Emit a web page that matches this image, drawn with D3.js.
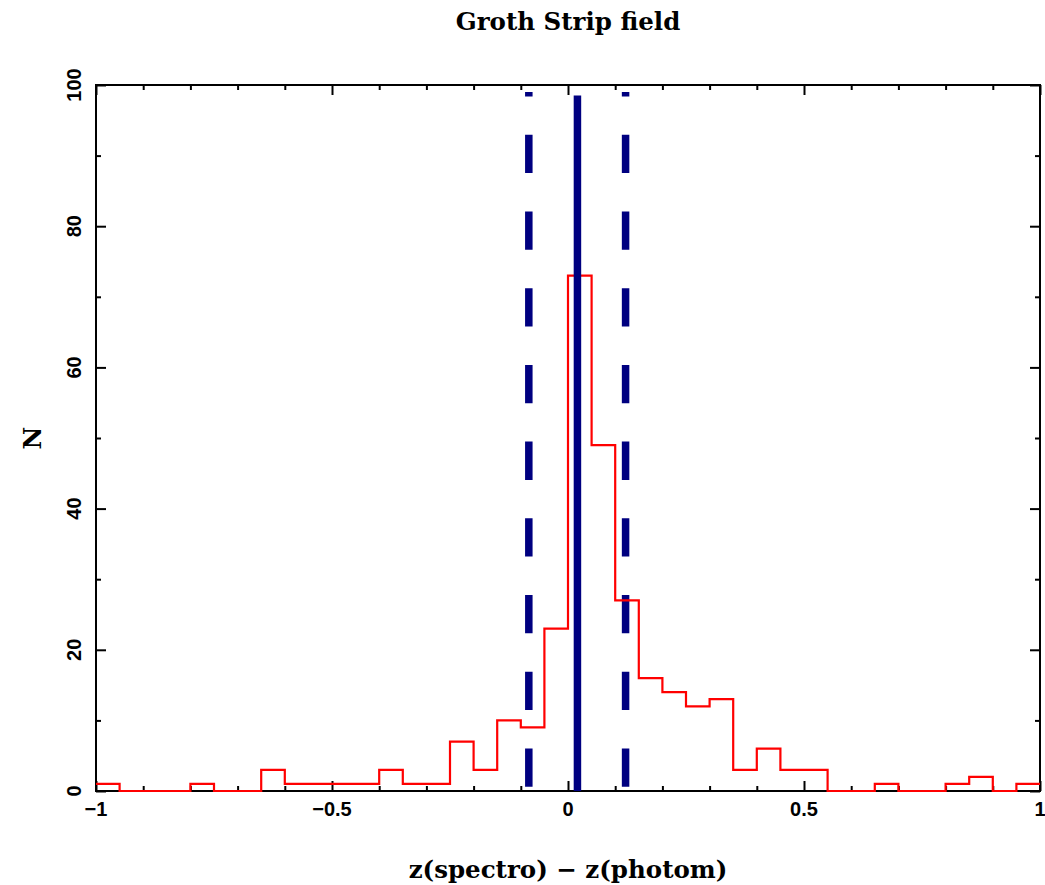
<!DOCTYPE html>
<html>
<head>
<meta charset="utf-8">
<script src="https://cdn.jsdelivr.net/npm/d3@7"></script>
<style>
  html, body { margin: 0; padding: 0; background: #fff; }
  svg { display: block; }
</style>
</head>
<body>
<svg id="chart" width="1045" height="885"></svg>
<script>
// Histogram of redshift residuals, bins of width 0.05 from -1 to 1
const binStart = -1;
const binWidth = 0.05;
const counts = [
  1, 0, 0, 0, 1, 0, 0, 3, 1, 1,
  1, 1, 3, 1, 1, 7, 3, 10, 9, 23,
  73, 49, 27, 16, 14, 12, 13, 3, 6, 3,
  3, 0, 0, 1, 0, 0, 1, 2, 0, 1
];

// Mean offset and the ±1σ interval marked by the vertical lines
const meanOffset = 0.02;
const sigmaBounds = [-0.083, 0.122];
const markerTop = 99;
const solidTop = 98.5;

const xTickValues = [-1, -0.5, 0, 0.5, 1];
const xTickLabels = ["\u22121", "\u22120.5", "0", "0.5", "1"];
const xMinorTicks = d3.range(-10, 11).map(i => i / 10);
const yTickValues = [0, 20, 40, 60, 80, 100];
const yTickLabels = ["0", "20", "40", "60", "80", "100"];
const yMinorTicks = d3.range(0, 11).map(i => i * 10);

const titleText = "Groth Strip field";
const xLabel = "z(spectro) \u2212 z(photom)";
const yLabel = "N";

const svg = d3.select("#chart");
const plotLeft = 96, plotRight = 1040, plotTop = 85, plotBottom = 791;

const x = d3.scaleLinear().domain([-1, 1]).range([plotLeft, plotRight]);
const y = d3.scaleLinear().domain([0, 100]).range([plotBottom, plotTop]);

const serif = "'DejaVu Serif', serif";
const sans = "'Liberation Sans', Arial, sans-serif";

// Axis ticks pointing inward on all four sides
function tickAxis(axisFn, scale, values, size, transform) {
  svg.append("g")
    .attr("transform", transform)
    .call(axisFn(scale).tickValues(values).tickSize(-size).tickFormat(""))
    .call(g => g.select(".domain").remove())
    .call(g => g.selectAll("line").attr("stroke", "#000").attr("stroke-width", 2));
}
const xMajor = xTickValues;
const xMinor = xMinorTicks.filter(v => !xMajor.some(m => Math.abs(m - v) < 1e-9));
const yMinor = yMinorTicks.filter(v => !yTickValues.includes(v));

tickAxis(d3.axisBottom, x, xMajor, 10, `translate(0,${plotBottom})`);
tickAxis(d3.axisBottom, x, xMinor, 5, `translate(0,${plotBottom})`);
tickAxis(d3.axisTop, x, xMajor, 10, `translate(0,${plotTop})`);
tickAxis(d3.axisTop, x, xMinor, 5, `translate(0,${plotTop})`);
tickAxis(d3.axisLeft, y, yTickValues, 10, `translate(${plotLeft},0)`);
tickAxis(d3.axisLeft, y, yMinor, 5, `translate(${plotLeft},0)`);
tickAxis(d3.axisRight, y, yTickValues, 10, `translate(${plotRight},0)`);
tickAxis(d3.axisRight, y, yMinor, 5, `translate(${plotRight},0)`);

// Frame
svg.append("rect")
  .attr("x", plotLeft).attr("y", plotTop)
  .attr("width", plotRight - plotLeft).attr("height", plotBottom - plotTop)
  .attr("fill", "none").attr("stroke", "#000").attr("stroke-width", 2);

// Tick labels
svg.append("g").selectAll("text")
  .data(xTickValues)
  .join("text")
  .attr("x", d => x(d))
  .attr("y", 816)
  .attr("text-anchor", "middle")
  .attr("font-family", sans).attr("font-weight", "bold").attr("font-size", 20)
  .attr("fill", "#000")
  .text((d, i) => xTickLabels[i]);

svg.append("g").selectAll("text")
  .data(yTickValues)
  .join("text")
  .attr("transform", d => `translate(81,${y(d)}) rotate(-90)`)
  .attr("text-anchor", "middle")
  .attr("font-family", sans).attr("font-weight", "bold").attr("font-size", 20)
  .attr("fill", "#000")
  .text((d, i) => yTickLabels[i]);

// ±1σ dashed markers
const navy = "#000080";
svg.append("g").selectAll("line")
  .data(sigmaBounds)
  .join("line")
  .attr("x1", d => x(d)).attr("x2", d => x(d))
  .attr("y1", y(0)).attr("y2", y(markerTop))
  .attr("stroke", navy).attr("stroke-width", 7.5)
  .attr("stroke-dasharray", "38.3 38.4")
  .attr("stroke-dashoffset", 72.4);

// Histogram outline
const edges = counts.map((c, i) => binStart + i * binWidth);
const stepPoints = counts.map((c, i) => [edges[i], c]);
stepPoints.push([binStart + counts.length * binWidth, counts[counts.length - 1]]);
svg.append("path")
  .datum(stepPoints)
  .attr("d", d3.line().x(d => x(d[0])).y(d => y(d[1])).curve(d3.curveStepAfter))
  .attr("fill", "none")
  .attr("stroke", "#ff0000")
  .attr("stroke-width", 2.2);

// Mean offset marker
svg.append("line")
  .attr("x1", x(meanOffset)).attr("x2", x(meanOffset))
  .attr("y1", y(0)).attr("y2", y(solidTop))
  .attr("stroke", navy).attr("stroke-width", 7.5);

// Title and axis labels
svg.append("text")
  .attr("x", (plotLeft + plotRight) / 2).attr("y", 30)
  .attr("text-anchor", "middle")
  .attr("font-family", serif).attr("font-weight", "bold").attr("font-size", 24.5)
  .attr("fill", "#000")
  .text(titleText);

svg.append("text")
  .attr("x", (plotLeft + plotRight) / 2).attr("y", 878)
  .attr("text-anchor", "middle")
  .attr("font-family", serif).attr("font-weight", "bold").attr("font-size", 24.5)
  .attr("fill", "#000")
  .text(xLabel);

svg.append("text")
  .attr("transform", `translate(41,${(plotTop + plotBottom) / 2}) rotate(-90)`)
  .attr("text-anchor", "middle")
  .attr("font-family", serif).attr("font-weight", "bold").attr("font-size", 25)
  .attr("fill", "#000")
  .text(yLabel);
</script>
</body>
</html>
